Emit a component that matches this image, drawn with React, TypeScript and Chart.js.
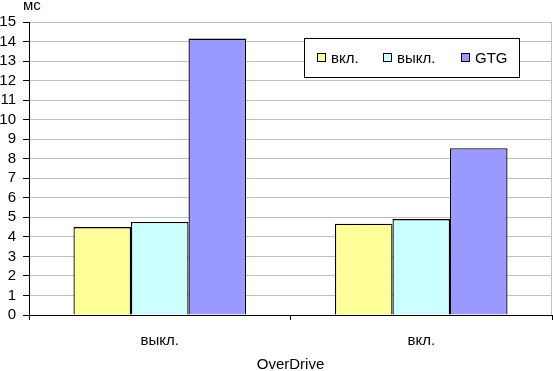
import React, { useEffect, useRef } from "react";
import { Chart, registerables } from "chart.js";

Chart.register(...registerables);

const categories = ["выкл.", "вкл."];
const seriesNames = ["вкл.", "выкл.", "GTG"];
const seriesOn = [4.5, 4.67];
const seriesOff = [4.76, 4.91];
const seriesGTG = [14.15, 8.54];
const seriesColors = ["#FFFF99", "#CCFFFF", "#9999FF"];
const yUnit = "мс";
const xTitle = "OverDrive";
const yMin = 0;
const yMax = 15;

const FONT = "'Liberation Sans', Arial, sans-serif";
const FS = 15;

const extrasPlugin = {
  id: "extras",
  beforeDatasetsDraw(chart: any) {
    const { ctx, chartArea } = chart;
    ctx.save();
    ctx.strokeStyle = "#c0c0c0";
    ctx.lineWidth = 1;
    ctx.beginPath();
    ctx.moveTo(chartArea.right - 0.5, chartArea.top);
    ctx.lineTo(chartArea.right - 0.5, chartArea.bottom);
    ctx.stroke();
    ctx.restore();
  },
  afterDraw(chart: any) {
    const { ctx } = chart;
    ctx.save();
    ctx.fillStyle = "#000";
    ctx.font = `${FS}px ${FONT}`;
    ctx.textAlign = "left";
    ctx.textBaseline = "alphabetic";
    ctx.fillText(yUnit, 23, 10);
    const bx = 304.5, by = 38.5, bw = 215, bh = 39;
    ctx.fillStyle = "#fff";
    ctx.fillRect(bx, by, bw, bh);
    ctx.strokeStyle = "#000";
    ctx.lineWidth = 1;
    ctx.strokeRect(bx, by, bw, bh);
    const itemX = [317, 383, 461];
    const cy = 58;
    chart.data.datasets.forEach((ds: any, i: number) => {
      const x = itemX[i];
      ctx.fillStyle = ds.backgroundColor;
      ctx.fillRect(x + 0.5, cy - 4.5, 8, 8);
      ctx.strokeStyle = "#000";
      ctx.strokeRect(x + 0.5, cy - 4.5, 8, 8);
      ctx.fillStyle = "#000";
      ctx.textBaseline = "middle";
      ctx.fillText(ds.label, x + 14, cy + 1);
    });
    ctx.restore();
  },
};

export default function App() {
  const ref = useRef<HTMLCanvasElement>(null);
  useEffect(() => {
    document.body.style.margin = "0";
    const canvas = ref.current!;
    const chart = new Chart(canvas, {
      type: "bar",
      data: {
        labels: categories,
        datasets: [seriesOn, seriesOff, seriesGTG].map((d, i) => ({
          label: seriesNames[i],
          data: d,
          backgroundColor: seriesColors[i],
          borderColor: "#000",
          borderWidth: 1.3,
          categoryPercentage: 0.66,
          barPercentage: 1,
        })),
      },
      options: {
        responsive: false,
        animation: false,
        layout: { padding: { top: 22, right: 1, left: 0, bottom: 0 } },
        plugins: {
          legend: { display: false },
          tooltip: { enabled: false },
        },
        scales: {
          x: {
            afterFit: (s: any) => { s.height = 56; },
            grid: {
              offset: true,
              drawOnChartArea: false,
              color: "#000",
              tickColor: "#000",
              tickLength: 5,
            },
            border: { color: "#000", width: 1 },
            ticks: {
              color: "#000",
              font: { family: FONT, size: FS },
              padding: 12,
            },
            title: {
              display: true,
              text: xTitle,
              color: "#000",
              font: { family: FONT, size: FS, lineHeight: 0.8 },
              padding: { top: 0, bottom: 0 },
            },
          },
          y: {
            min: yMin,
            max: yMax,
            afterFit: (s: any) => { s.width = 29; },
            grid: {
              color: "#c0c0c0",
              tickColor: "#000",
              tickLength: 6,
            },
            border: { color: "#000", width: 1 },
            ticks: {
              stepSize: 1,
              autoSkip: false,
              color: "#000",
              font: { family: FONT, size: FS },
              padding: 7,
            },
          },
        },
      },
      plugins: [extrasPlugin],
    });
    return () => chart.destroy();
  }, []);
  return <canvas ref={ref} width={553} height={371} style={{ display: "block" }} />;
}
